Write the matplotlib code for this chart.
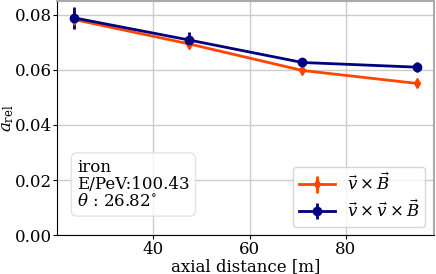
import numpy as np
import matplotlib.pyplot as plt

plt.rcParams['font.family'] = 'DejaVu Serif'
plt.rcParams['mathtext.fontset'] = 'dejavuserif'

# data
dist = [23.5, 47.3, 71.0, 94.8]
a_vxb = [0.0783, 0.0695, 0.0598, 0.0551]
err_vxb = [0.0030, 0.0016, 0.0010, 0.0012]
a_vxvxb = [0.0789, 0.0709, 0.0627, 0.0610]
err_vxvxb = [0.0040, 0.0030, 0.0008, 0.0018]

fig, ax = plt.subplots(figsize=(4.36, 2.74), dpi=100)
ax.errorbar(dist, a_vxb, yerr=err_vxb, color='#ff4500', marker='d', ms=5, lw=2,
            elinewidth=2, label=r'$\vec{v}\times\vec{B}$')
ax.errorbar(dist, a_vxvxb, yerr=err_vxvxb, color='#000080', marker='o', ms=6, lw=2,
            elinewidth=2, label=r'$\vec{v}\times\vec{v}\times\vec{B}$')

ax.set_ylim(0, 0.085)
ax.set_yticks([0, 0.02, 0.04, 0.06, 0.08])
ax.set_xticks([40, 60, 80])
ax.tick_params(labelsize=12, length=3, pad=1)
ax.set_xlabel('axial distance [m]', fontsize=12, labelpad=0)
ax.set_ylabel(r'$a_{\mathrm{rel}}$', fontsize=12)
ax.yaxis.set_label_coords(-0.11, 0.5)
ax.grid(color='#cccccc', lw=1)
ax.set_axisbelow(True)
for s in ['top', 'right']:
    ax.spines[s].set_color('#aaaaaa')
    ax.spines[s].set_linewidth(1.5)

ax.text(0.053, 0.123, 'iron\nE/PeV:100.43\n' + r'$\theta$ : 26.82$^{\circ}$',
        transform=ax.transAxes, fontsize=12, linespacing=1.02,
        bbox=dict(boxstyle='round,pad=0.35', fc='white', ec='#dddddd', alpha=0.8))
ax.legend(loc='lower right', fontsize=12, handlelength=2.2, handletextpad=0.7,
          borderpad=0.35, labelspacing=0.3)

fig.subplots_adjust(left=0.131, right=0.995, top=0.996, bottom=0.142)
fig.savefig('out.png', dpi=100)
